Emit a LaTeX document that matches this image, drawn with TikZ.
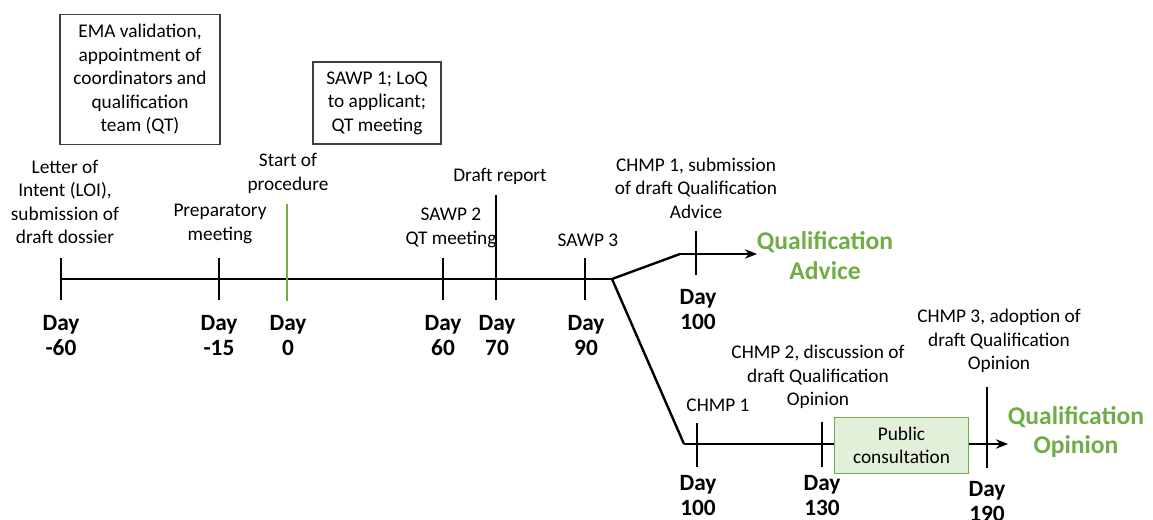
\documentclass[tikz,border=0pt]{standalone}
\usepackage{fontspec}
\setmainfont{Carlito}
\usetikzlibrary{arrows.meta}
\definecolor{qgreen}{HTML}{70AD47}
\definecolor{pcfill}{HTML}{E2EFD9}
\tikzset{
  tl/.style={line width=1.8pt, draw=black},
  txt/.style={align=center, inner sep=0pt, font=\fontsize{14.5}{17.6}\selectfont},
  daylbl/.style={align=center, inner sep=0pt, font=\fontsize{17.5}{18.75}\selectfont\bfseries},
  outcome/.style={align=center, inner sep=0pt, text=qgreen, font=\fontsize{19.2}{22}\selectfont\bfseries},
  infobox/.style={draw=black!75, line width=0.9pt, align=center, inner sep=0pt, font=\fontsize{14.5}{17.6}\selectfont},
  arr/.style={tl, -{Stealth[length=9pt,width=7pt]}}
}
\begin{document}
\begin{tikzpicture}[x=0.75pt,y=-0.75pt]
\useasboundingbox (0,0) rectangle (1153,520);
% main timeline coordinates
\coordinate (m0) at (61,279);
\coordinate (br) at (612,279);
\coordinate (up1) at (680,254);
\coordinate (upend) at (757,254);
\coordinate (lo1) at (684,444);
\coordinate (loend) at (1008,444);
\draw[tl] (m0) -- (br);
\draw[tl] (br) -- (up1);
\draw[arr] (up1) -- (upend);
\draw[tl] (br) -- (lo1);
\draw[arr] (lo1) -- (loend);
% ticks main
\foreach \n/\x/\ya/\yb in {a/61/258/300, b/219/258/300, d/443/258/300, e/496/195/300, f/585/258/300}{
  \coordinate (\n top) at (\x,\ya);
  \coordinate (\n bot) at (\x,\yb);
  \draw[tl] (\n top) -- (\n bot);
}
\coordinate (ctop) at (287,204);
\coordinate (cbot) at (287,301);
\draw[line width=1.8pt, qgreen] (ctop) -- (cbot);
% upper branch tick
\coordinate (gtop) at (696,231);
\coordinate (gbot) at (696,275);
\draw[tl] (gtop) -- (gbot);
% lower branch ticks
\foreach \n/\x/\ya/\yb in {h/697/423/467, i/822/422/467, j/987/387/468}{
  \coordinate (\n top) at (\x,\ya);
  \coordinate (\n bot) at (\x,\yb);
  \draw[tl] (\n top) -- (\n bot);
}
% public consultation
\node[draw=qgreen, line width=0.9pt, fill=pcfill, minimum width=100pt, minimum height=42.5pt, txt] (pc) at (901.5,445.5) {Public\\consultation};
% boxes
\node[infobox, minimum width=120pt, minimum height=97pt] (ema) at (140,79.5) {EMA validation,\\appointment of\\coordinators and\\qualification\\team (QT)};
\node[infobox, minimum width=96pt, minimum height=61.5pt] (sawp1) at (377,103) {SAWP 1; LoQ\\to applicant;\\QT meeting};
% labels above
\node[txt] (loi) at (65,202) {Letter of\\Intent (LOI),\\submission of\\draft dossier};
\node[txt] (prep) at (220,224) {Preparatory\\meeting};
\node[txt] (start) at (288,173.5) {Start of\\procedure};
\node[txt] (sawp2) at (451,228) {SAWP 2\\QT meeting};
\node[txt] (draft) at (500,176) {Draft report};
\node[txt] (sawp3) at (588,240) {SAWP 3};
\node[txt] (chmp1a) at (696,188) {CHMP 1, submission\\of draft Qualification\\Advice};
\node[txt] (chmp1b) at (718,405) {CHMP 1};
\node[txt] (chmp2) at (818,377) {CHMP 2, discussion of\\draft Qualification\\Opinion};
\node[txt] (chmp3) at (999,341) {CHMP 3, adoption of\\draft Qualification\\Opinion};
% outcomes
\node[outcome] (qa) at (825,255.5) {Qualification\\Advice};
\node[outcome] (qo) at (1076,432) {Qualification\\Opinion};
% day labels
\node[daylbl] (d1) at (61,335.5) {Day\\-60};
\node[daylbl] (d2) at (219,335.5) {Day\\-15};
\node[daylbl] (d3) at (288,335.5) {Day\\0};
\node[daylbl] (d4) at (443,335.5) {Day\\60};
\node[daylbl] (d5) at (497,335.5) {Day\\70};
\node[daylbl] (d6) at (586,335.5) {Day\\90};
\node[daylbl] (d7) at (698,309.5) {Day\\100};
\node[daylbl] (d8) at (698,496) {Day\\100};
\node[daylbl] (d9) at (822,496) {Day\\130};
\node[daylbl] (d10) at (987,502) {Day\\190};
\end{tikzpicture}
\end{document}
